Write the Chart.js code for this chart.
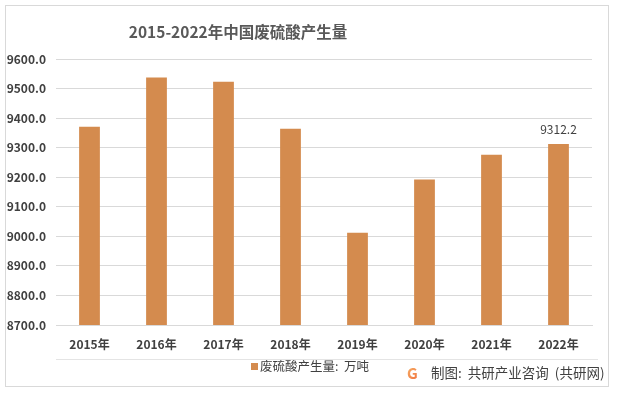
<!DOCTYPE html>
<html>
<head>
<meta charset="utf-8">
<script src="https://cdn.jsdelivr.net/npm/chart.js@4"></script>
<style>
  html, body { margin: 0; padding: 0; background: #fff; }
  #wrap { width: 620px; height: 393px; }
</style>
</head>
<body>
<div id="wrap"><canvas id="myChart" width="620" height="393"></canvas></div>
<script>
  const years = ['2015年','2016年','2017年','2018年','2019年','2020年','2021年','2022年']
  const output = [9371, 9537, 9523, 9364, 9012, 9192, 9276, 9312.2]
  const seriesName = '废硫酸产生量:  万吨'
  const chartTitle = '2015-2022年中国废硫酸产生量'
  const credit = '制图:  共研产业咨询  (共研网)'

  const font = '"Noto Sans CJK SC", "Noto Sans", sans-serif'
  const barColor = '#D48B4E'

  // frame, title, legend, credit line and the value on the last bar
  const extras = {
    id: 'extras',
    beforeDraw: (chart) => {
      const ctx = chart.ctx
      ctx.save()
      ctx.fillStyle = '#fff'
      ctx.fillRect(0, 0, chart.width, chart.height)
      ctx.strokeStyle = '#d9d9d9'
      ctx.lineWidth = 1
      ctx.strokeRect(5.5, 5.5, 603, 381)
      ctx.restore()
    },
    afterDraw: (chart) => {
      const ctx = chart.ctx
      ctx.save()
      ctx.fillStyle = '#595959'
      ctx.font = 'bold 15.5px ' + font
      ctx.textAlign = 'center'
      ctx.textBaseline = 'middle'
      ctx.fillText(chartTitle, 238, 32)

      // separator under the axis labels
      ctx.strokeStyle = '#e4e4e4'
      ctx.beginPath()
      ctx.moveTo(56, 359.5)
      ctx.lineTo(598, 359.5)
      ctx.stroke()

      // legend
      ctx.fillStyle = barColor
      ctx.fillRect(251, 363, 7, 7)
      ctx.fillStyle = '#404040'
      ctx.font = '12.5px ' + font
      ctx.textAlign = 'left'
      ctx.fillText(seriesName, 260, 366)

      // credit with logo
      const g = ctx.createLinearGradient(407, 366, 421, 380)
      g.addColorStop(0, '#f7b267')
      g.addColorStop(1, '#ef6a3a')
      ctx.fillStyle = g
      ctx.font = 'bold 15px ' + font
      ctx.fillText('G', 407, 373)
      ctx.fillStyle = '#404040'
      ctx.font = '13.5px ' + font
      ctx.fillText(credit, 431, 373)

      // value label on last bar
      const meta = chart.getDatasetMeta(0)
      const last = meta.data[meta.data.length - 1]
      ctx.fillStyle = '#404040'
      ctx.font = '12px ' + font
      ctx.textAlign = 'center'
      ctx.fillText(String(output[output.length - 1].toFixed(1)), last.x, last.y - 15)
      ctx.restore()
    }
  }

  let myChart = new Chart(document.getElementById('myChart'), {
    type: 'bar',
    data: {
      labels: years,
      datasets: [{
        label: seriesName,
        backgroundColor: barColor,
        data: output,
        barPercentage: 0.31,
        categoryPercentage: 1
      }]
    },
    plugins: [extras],
    options: {
      responsive: false,
      animation: false,
      layout: { padding: { top: 59, right: 28, left: 0, bottom: 0 } },
      plugins: {
        legend: { display: false },
        title: { display: false },
        tooltip: { enabled: false }
      },
      scales: {
        x: {
          grid: { display: false, drawTicks: false },
          border: { color: '#d9d9d9' },
          ticks: { color: '#404040', font: { family: font, size: 12, weight: 'bold' }, padding: 12, maxRotation: 0 },
          afterFit: (s) => { s.height = 68 }
        },
        y: {
          min: 8700,
          max: 9600,
          grid: { color: '#d9d9d9', drawTicks: false },
          border: { display: false },
          ticks: {
            stepSize: 100,
            color: '#404040',
            font: { family: font, size: 12, weight: 'bold' },
            padding: 10,
            callback: (v) => v.toFixed(1)
          },
          afterFit: (s) => { s.width = 56 }
        }
      }
    }
  })
</script>
</body>
</html>
